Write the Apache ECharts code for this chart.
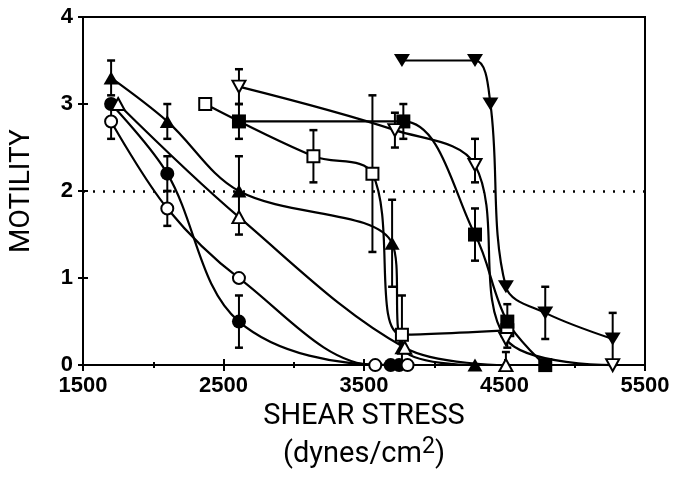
<!DOCTYPE html>
<html>
<head>
<meta charset="utf-8">
<script src="https://cdn.jsdelivr.net/npm/echarts@6/dist/echarts.min.js"></script>
<style>
  html, body { margin: 0; padding: 0; background: #fff; }
  #chart { width: 673px; height: 478px; }
</style>
</head>
<body>
<div id="chart"></div>
<script>
// x = shear stress (dynes/cm2), y = motility score
const xTicks = [1500, 2500, 3500, 4500, 5500];
const yTicks = [0, 1, 2, 3, 4];
const threshold = 2;

const filledCircle = [[1700, 3.0], [2100, 2.2], [2610, 0.5], [3690, 0], [3750, 0]];
const openCircle = [[1700, 2.8], [2100, 1.8], [2610, 1.0], [3580, 0], [3810, 0]];
const filledTriUp = [[1700, 3.3], [2100, 2.8], [2610, 2.0], [3700, 1.4], [3770, 0.2], [4290, 0]];
const openTriUp = [[1750, 3.0], [2610, 1.7], [3790, 0.2], [4510, 0]];
const openSquare = [[2370, 3.0], [3140, 2.4], [3560, 2.2], [3770, 0.35], [4520, 0.4]];
const filledSquare = [[2610, 2.8], [3780, 2.8], [4290, 1.5], [4520, 0.5], [4790, 0]];
const openTriDown = [[2610, 3.2], [3720, 2.7], [4290, 2.3], [4510, 0.3], [5270, 0]];
const filledTriDown = [[3770, 3.5], [4290, 3.5], [4400, 3.0], [4510, 0.9], [4790, 0.6], [5270, 0.3]];

// error bars: [x, low, high]
const errorBars = [
  [1700, 3.1, 3.5], [2100, 2.6, 3.0], [2610, 1.5, 2.4], [3700, 0.9, 1.9], [3770, 0, 0.8],
  [2100, 2.0, 2.4], [2610, 0.2, 0.8],
  [1700, 2.6, 3.0], [2100, 1.6, 2.0],
  [2610, 3.0, 3.4], [3720, 2.5, 2.9], [4290, 2.1, 2.6],
  [2610, 2.6, 3.0], [3780, 2.6, 3.0], [4290, 1.2, 1.8], [4520, 0.2, 0.7],
  [3140, 2.1, 2.7], [3560, 1.3, 3.1], [3770, 0.25, 0.4], [4510, 0, 0.15],
  [4790, 0.3, 0.9], [5270, 0, 0.6]
];

const chart = echarts.init(document.getElementById('chart'));

function curve(data, symbol, filled, size, rotate) {
  return {
    type: 'line',
    data: data,
    smooth: 0.35,
    symbol: symbol,
    symbolSize: size,
    symbolRotate: rotate || 0,
    showAllSymbol: true,
    z: 3,
    lineStyle: { color: '#000', width: 2.2 },
    itemStyle: {
      color: filled ? '#000' : '#fff',
      borderColor: '#000',
      borderWidth: filled ? 0 : 2
    },
    emphasis: { disabled: true }
  };
}

const tickFont = { fontFamily: 'Arial, Liberation Sans', fontWeight: 'bold', fontSize: 22, color: '#000' };

const option = {
  backgroundColor: '#fff',
  animation: false,
  grid: {
    left: 80, right: 28, top: 17, bottom: 109,
    show: true, borderColor: '#000', borderWidth: 2
  },
  xAxis: [
    {
      type: 'value', min: 1500, max: 5500, interval: 1000,
      name: '{a|SHEAR STRESS}\n{b|(dynes/cm}{s|2}{b|)}',
      nameLocation: 'middle', nameGap: 32,
      nameTextStyle: {
        rich: {
          a: { fontFamily: 'Roboto', fontSize: 29, lineHeight: 38, color: '#000' },
          b: { fontFamily: 'Roboto', fontSize: 29, lineHeight: 38, color: '#000' },
          s: { fontFamily: 'Roboto', fontSize: 23, lineHeight: 38, color: '#000', padding: [0, 0, 14, 0] }
        }
      },
      axisLine: { lineStyle: { color: '#000', width: 2 } },
      axisTick: { length: 6, lineStyle: { color: '#000', width: 2 } },
      minorTick: { show: true, splitNumber: 2, length: 3, lineStyle: { color: '#000', width: 2 } },
      axisLabel: Object.assign({ margin: 10, formatter: v => xTicks.includes(v) ? String(v) : '' }, tickFont),
      splitLine: { show: false }
    },
    {
      type: 'value', min: 1500, max: 5500, interval: 1000, position: 'bottom',
      axisLine: { show: false },
      axisTick: { inside: true, length: 6, lineStyle: { color: '#000', width: 2 } },
      minorTick: { show: true, splitNumber: 2, length: 3, lineStyle: { color: '#000', width: 2 } },
      axisLabel: { show: false },
      splitLine: { show: false }
    }
  ],
  yAxis: [
    {
      type: 'value', min: 0, max: 4, interval: 1,
      name: 'MOTILITY', nameLocation: 'middle', nameGap: 47, nameRotate: 90,
      nameTextStyle: { fontFamily: 'Roboto', fontSize: 28, color: '#000' },
      axisLine: { show: true, lineStyle: { color: '#000', width: 2 } },
      axisTick: { show: true, length: 5, lineStyle: { color: '#000', width: 2 } },
      axisLabel: Object.assign({ margin: 10, formatter: v => yTicks.includes(v) ? String(v) : '' }, tickFont),
      splitLine: { show: false }
    },
    {
      type: 'value', min: 0, max: 4, interval: 1, position: 'left',
      axisLine: { show: false },
      axisTick: { show: true, inside: true, length: 5, lineStyle: { color: '#000', width: 2 } },
      axisLabel: { show: false },
      splitLine: { show: false }
    }
  ],
  series: [
    {
      type: 'custom',
      data: errorBars,
      z: 2,
      silent: true,
      renderItem: function (params, api) {
        const lo = api.coord([api.value(0), api.value(1)]);
        const hi = api.coord([api.value(0), api.value(2)]);
        const w = 4;
        const st = { stroke: '#000', lineWidth: 2 };
        return {
          type: 'group',
          children: [
            { type: 'line', shape: { x1: lo[0], y1: lo[1], x2: hi[0], y2: hi[1] }, style: st },
            { type: 'line', shape: { x1: hi[0] - w, y1: hi[1], x2: hi[0] + w, y2: hi[1] }, style: { stroke: '#000', lineWidth: 2.5 } },
            { type: 'line', shape: { x1: lo[0] - w, y1: lo[1], x2: lo[0] + w, y2: lo[1] }, style: { stroke: '#000', lineWidth: 2.5 } }
          ]
        };
      }
    },
    Object.assign(curve(filledCircle, 'circle', true, 14), {
      markLine: {
        silent: true, symbol: 'none', label: { show: false },
        lineStyle: { color: '#000', type: [2, 8], width: 2.5 },
        data: [{ yAxis: threshold }]
      }
    }),
    curve(openCircle, 'circle', false, 12),
    curve(filledTriUp, 'triangle', true, [15, 13]),
    curve(openTriUp, 'triangle', false, [13, 12]),
    curve(openSquare, 'rect', false, 12),
    curve(filledSquare, 'rect', true, 14),
    curve(openTriDown, 'triangle', false, [13, 12], 180),
    curve(filledTriDown, 'triangle', true, [16, 13], 180)
  ]
};

chart.setOption(option);
</script>
</body>
</html>
